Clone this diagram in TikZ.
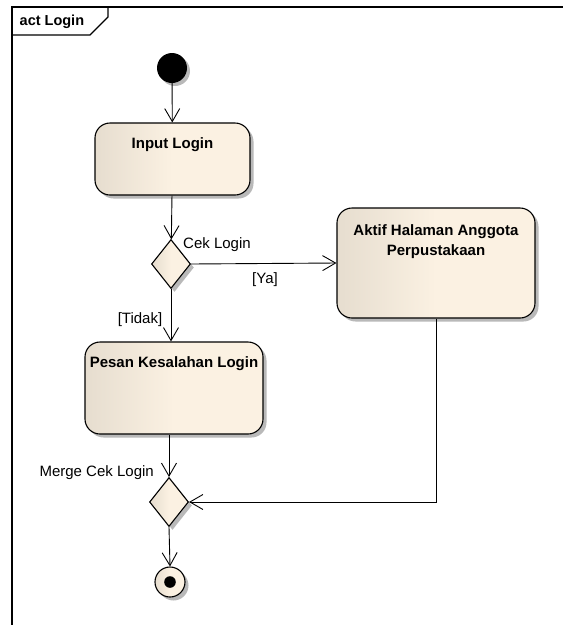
\documentclass[tikz,border=0pt]{standalone}
\usepackage{fontspec}
\setmainfont{Liberation Sans}
\usetikzlibrary{shapes.geometric,shadows,arrows.meta,calc}
\definecolor{fillL}{RGB}{230,221,207}
\definecolor{fillR}{RGB}{251,241,226}
\definecolor{shad}{RGB}{185,185,185}
\tikzset{
  base/.style={draw=black, line width=1.1pt, left color=fillL, right color=fillR, middle color=fillR,
    drop shadow={shadow xshift=3.5pt, shadow yshift=-3.5pt, fill=shad, opacity=1}},
  actbox/.style={base, rectangle, rounded corners=15pt, inner sep=0pt},
  actlabel/.style={font=\bfseries\fontsize{15}{19.5}\selectfont, align=center, inner sep=0pt, anchor=north},
  decision/.style={base, diamond, inner sep=0pt, minimum width=39pt, minimum height=49pt},
  arr/.style={line width=0.9pt, -{Straight Barb[length=13pt, width=15pt, line width=0.9pt]}},
  lbl/.style={font=\fontsize{15}{17}\selectfont, inner sep=0pt},
}
\begin{document}
\begin{tikzpicture}[x=1pt, y=-1pt]
\useasboundingbox (0,0) rectangle (563,625);
% frame
\draw[line width=1.2pt] (563,7) -- (12,7) -- (12,625);
\draw[line width=1.1pt] (12,35) -- (90,35) -- (108,17) -- (108,7);
\node[font=\bfseries\fontsize{14.5}{16}\selectfont, anchor=west, inner sep=0pt] (title) at (19.5,21.5) {act Login};
% nodes
\node[circle, fill=black, minimum size=30pt, inner sep=0pt,
  drop shadow={shadow xshift=3pt, shadow yshift=-3pt, fill=shad, opacity=1}] (start) at (172,68) {};
\node[actbox, minimum width=155pt, minimum height=72pt,
  label={[actlabel, yshift=-15pt]north:Input Login}] (input) at (172.5,159) {};
\node[decision] (cek) at (171,264) {};
\node[actbox, minimum width=198pt, minimum height=110pt,
  label={[actlabel, yshift=-17pt]north:Aktif Halaman Anggota\\Perpustakaan}] (aktif) at (436,263) {};
\node[actbox, minimum width=178pt, minimum height=92pt,
  label={[actlabel, yshift=-15pt]north:Pesan Kesalahan Login}] (pesan) at (174,388) {};
\node[decision] (merge) at (169,502) {};
\node[base, circle, minimum size=30pt, inner sep=0pt,
  path picture={\fill[black] (path picture bounding box.center) circle (5.8pt);}] (final) at (170,582) {};
% connectors
\draw[arr] (start) -- (input);
\draw[arr] (input) -- (cek);
\draw[arr] (cek.east) -- (aktif.west);
\draw[arr] (cek.south) -- (cek.south |- pesan.north);
\draw[arr] (pesan.south -| merge.north) -- (merge.north);
\draw[arr] (aktif.south) |- (merge.east);
\draw[arr] (merge.south) -- (final.north);
% labels
\node[lbl, anchor=west] (lcek) at (183,245) {Cek Login};
\node[lbl] (lya) at (265,280) {[Ya]};
\node[lbl] (ltidak) at (140,320) {[Tidak]};
\node[lbl, anchor=east] (lmerge) at (154,473) {Merge Cek Login};
\end{tikzpicture}
\end{document}
